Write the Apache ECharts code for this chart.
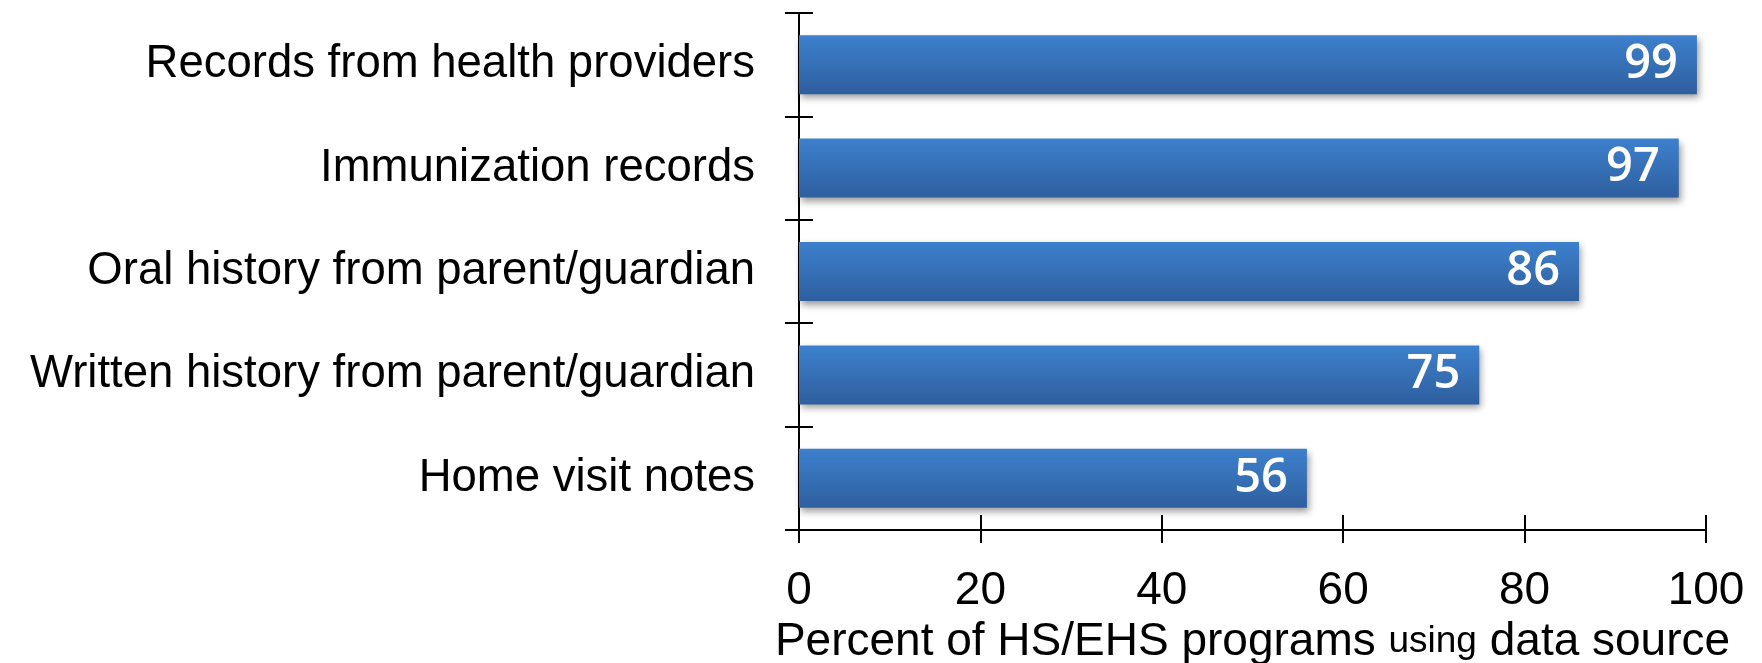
<!DOCTYPE html>
<html>
<head>
<meta charset="utf-8">
<script src="https://cdn.jsdelivr.net/npm/echarts@6/dist/echarts.min.js"></script>
<style>
  html, body { margin: 0; padding: 0; background: #fff; }
  #chart { width: 1762px; height: 663px; }
</style>
</head>
<body>
<div id="chart"></div>
<script>
// Data sources used by programs, listed top to bottom
const categories = [
  'Records from health providers',
  'Immunization records',
  'Oral history from parent/guardian',
  'Written history from parent/guardian',
  'Home visit notes'
];
const percentUsing = [99, 97, 86, 75, 56];
const xTicks = { min: 0, max: 100, interval: 20 };

const FONT = '"Liberation Sans", Arial, sans-serif';
const axisLineStyle = { color: '#000', width: 2 };

const chart = echarts.init(document.getElementById('chart'), null, { renderer: 'canvas' });

chart.setOption({
  animation: false,
  backgroundColor: '#fff',
  grid: {
    left: 799, right: 56, top: 13, bottom: 133,
    containLabel: false,
    outerBoundsMode: 'none'
  },
  xAxis: [
    {
      type: 'value',
      min: xTicks.min, max: xTicks.max, interval: xTicks.interval,
      position: 'bottom',
      axisLine: { show: true, lineStyle: axisLineStyle },
      axisTick: { show: true, inside: false, length: 13, lineStyle: axisLineStyle },
      splitLine: { show: false },
      axisLabel: { color: '#000', fontFamily: FONT, fontSize: 46, margin: 38 },
      name: '{a|Percent of HS/EHS programs }{b|using}{a| data source}',
      nameLocation: 'middle',
      nameGap: 87,
      nameTextStyle: {
        rich: {
          a: { fontFamily: FONT, fontSize: 46, color: '#000' },
          b: { fontFamily: FONT, fontSize: 37, color: '#000' }
        }
      }
    },
    {
      // upward half of the crossing tick marks
      type: 'value',
      min: xTicks.min, max: xTicks.max, interval: xTicks.interval,
      position: 'bottom',
      axisLine: { show: false },
      axisTick: { show: true, inside: true, length: 15, lineStyle: axisLineStyle },
      splitLine: { show: false },
      axisLabel: { show: false }
    }
  ],
  yAxis: [
    {
      type: 'category',
      data: categories,
      inverse: true,
      position: 'left',
      axisLine: { show: true, lineStyle: axisLineStyle },
      axisTick: { show: true, inside: false, length: 14, lineStyle: axisLineStyle },
      axisLabel: { color: '#000', fontFamily: FONT, fontSize: 45.5, margin: 44 },
      splitLine: { show: false }
    },
    {
      // right half of the crossing tick marks
      type: 'category',
      data: categories,
      inverse: true,
      position: 'left',
      axisLine: { show: false },
      axisTick: { show: true, inside: true, length: 14, lineStyle: axisLineStyle },
      axisLabel: { show: false },
      splitLine: { show: false }
    }
  ],
  series: [
    {
      type: 'bar',
      data: percentUsing,
      xAxisIndex: 0,
      yAxisIndex: 0,
      barWidth: 59,
      itemStyle: {
        color: new echarts.graphic.LinearGradient(0, 0, 0, 1, [
          { offset: 0, color: '#3d80cd' },
          { offset: 0.5, color: '#3670b6' },
          { offset: 1, color: '#2e5e9e' }
        ]),
        shadowColor: 'rgba(0,0,0,0.4)',
        shadowBlur: 7,
        shadowOffsetX: 2,
        shadowOffsetY: 4
      },
      label: {
        show: true,
        position: 'insideRight',
        distance: 19,
        color: '#fff',
        fontFamily: '"Open Sans", sans-serif',
        fontWeight: 600,
        fontSize: 47
      }
    }
  ]
});
</script>
</body>
</html>
